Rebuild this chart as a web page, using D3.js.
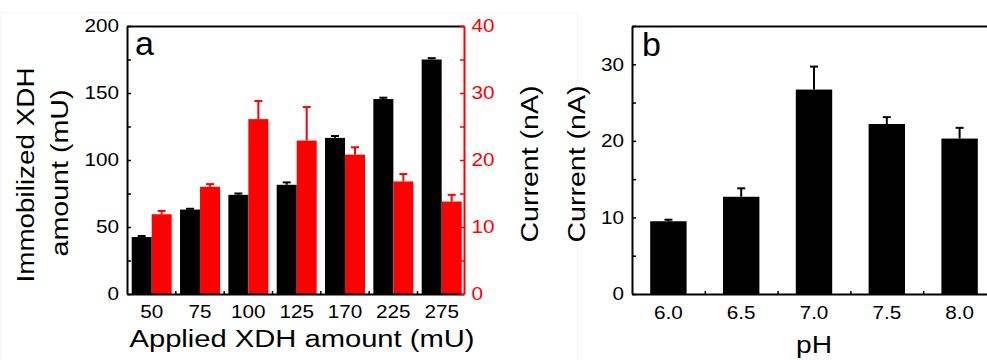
<!DOCTYPE html>
<html>
<head>
<meta charset="utf-8">
<script src="https://cdn.jsdelivr.net/npm/d3@7"></script>
<style>
  body { margin: 0; background: #fff; }
  text { font-family: 'Liberation Sans', Arial, sans-serif; }
</style>
</head>
<body>
<svg id="chart" width="987" height="360"></svg>
<script>
// panel a data
const appliedAmounts = ['50', '75', '100', '125', '170', '225', '275'];
const immobilized = [42.5, 63, 74, 81.5, 116.5, 145.5, 175];
const immobilizedErr = [0.8, 0.6, 1.0, 1.8, 1.4, 1.0, 1.0];
const currentA = [11.9, 16.0, 26.1, 22.9, 20.8, 16.8, 13.8];
const currentAErr = [0.5, 0.4, 2.7, 5.0, 1.1, 1.1, 1.0];
const leftTicksA = [0, 25, 50, 75, 100, 125, 150, 175, 200];
const rightTicksA = [0, 5, 10, 15, 20, 25, 30, 35, 40];

// panel b data
const phValues = ['6.0', '6.5', '7.0', '7.5', '8.0'];
const currentB = [9.5, 12.7, 26.7, 22.2, 20.3];
const currentBErr = [0.2, 1.1, 3.0, 0.9, 1.4];
const ticksB = [0, 5, 10, 15, 20, 25, 30, 35];

const RED = '#ff0000';
const stretch = 1.15; // the figure text is widened horizontally
const tickFont = 18;

const svg = d3.select('#chart');

// faint frame of the pasted left image
svg.append('rect')
  .attr('x', 0.5).attr('y', 12.5)
  .attr('width', 577).attr('height', 360)
  .attr('fill', 'none')
  .attr('stroke', '#f5f5f5');

function styleAxis(g, color) {
  g.select('.domain').attr('stroke', color).attr('stroke-width', 2);
  g.selectAll('.tick line').attr('stroke', color).attr('stroke-width', 1.5);
  g.selectAll('.tick text')
    .attr('fill', color)
    .style('font-size', tickFont + 'px')
    .attr('transform', `scale(${stretch},1)`);
}

function errorBars(g, data, errs, xPos, yScale, color) {
  const cap = 4;
  const eb = g.append('g').attr('stroke', color).attr('stroke-width', 2);
  eb.selectAll('line.stem')
    .data(data)
    .join('line')
    .attr('class', 'stem')
    .attr('x1', (d, i) => xPos(i))
    .attr('x2', (d, i) => xPos(i))
    .attr('y1', (d) => yScale(d))
    .attr('y2', (d, i) => yScale(d + errs[i]));
  eb.selectAll('line.cap')
    .data(data)
    .join('line')
    .attr('class', 'cap')
    .attr('x1', (d, i) => xPos(i) - cap)
    .attr('x2', (d, i) => xPos(i) + cap)
    .attr('y1', (d, i) => yScale(d + errs[i]))
    .attr('y2', (d, i) => yScale(d + errs[i]));
}

function title(x, y, txt, len, rotate) {
  svg.append('text')
    .attr('transform', `translate(${x},${y})` + (rotate ? ' rotate(-90)' : ''))
    .attr('text-anchor', 'middle')
    .attr('textLength', len)
    .attr('lengthAdjust', 'spacingAndGlyphs')
    .style('font-size', '23px')
    .attr('fill', '#000')
    .text(txt);
}

// ---------- panel a ----------
const a = { left: 127, right: 464, top: 26, bottom: 294 };

const xA = d3.scaleBand()
  .domain(appliedAmounts)
  .range([a.left, a.left + 48.33 * appliedAmounts.length]);
const subA = d3.scaleBand()
  .domain(['imm', 'cur'])
  .range([4.7, 44.7]);
const yLeftA = d3.scaleLinear().domain([0, 200]).range([a.bottom, a.top]);
const yRightA = d3.scaleLinear().domain([0, 40]).range([a.bottom, a.top]);
const boundaryA = d3.scaleLinear()
  .domain([0, appliedAmounts.length])
  .range(xA.range());

const panelA = svg.append('g');

panelA.append('g')
  .selectAll('rect')
  .data(immobilized)
  .join('rect')
  .attr('x', (d, i) => xA(appliedAmounts[i]) + subA('imm'))
  .attr('width', subA.bandwidth())
  .attr('y', (d) => yLeftA(d))
  .attr('height', (d) => yLeftA(0) - yLeftA(d))
  .attr('fill', '#000');

panelA.append('g')
  .selectAll('rect')
  .data(currentA)
  .join('rect')
  .attr('x', (d, i) => xA(appliedAmounts[i]) + subA('cur'))
  .attr('width', subA.bandwidth())
  .attr('y', (d) => yRightA(d))
  .attr('height', (d) => yRightA(0) - yRightA(d))
  .attr('fill', RED);

errorBars(panelA, immobilized, immobilizedErr,
  (i) => xA(appliedAmounts[i]) + subA('imm') + subA.bandwidth() / 2, yLeftA, '#000');
errorBars(panelA, currentA, currentAErr,
  (i) => xA(appliedAmounts[i]) + subA('cur') + subA.bandwidth() / 2, yRightA, RED);

// axes of panel a
const xAxisA = panelA.append('g')
  .attr('transform', `translate(0,${a.bottom})`)
  .call(d3.axisBottom(xA).tickSize(0).tickPadding(11));
xAxisA.select('.domain').remove();
styleAxis(xAxisA, '#000');
xAxisA.selectAll('.tick text')
  .attr('x', (d) => (subA('cur') - xA.bandwidth() / 2) / stretch);

const xBoundA = panelA.append('g')
  .attr('transform', `translate(0,${a.bottom})`)
  .call(d3.axisBottom(boundaryA).tickValues(d3.range(1, appliedAmounts.length))
    .tickSizeInner(-3).tickSizeOuter(0).tickFormat(''));
xBoundA.select('.domain').remove();
styleAxis(xBoundA, '#000');

const topA = panelA.append('g')
  .attr('transform', `translate(0,${a.top})`)
  .call(d3.axisTop(d3.scaleLinear().range([a.left, a.right])).tickValues([]).tickSizeOuter(0));
styleAxis(topA, '#000');

const bottomLineA = panelA.append('g')
  .attr('transform', `translate(0,${a.bottom})`)
  .call(d3.axisBottom(d3.scaleLinear().range([a.left, a.right])).tickValues([]).tickSizeOuter(0));
styleAxis(bottomLineA, '#000');

const yAxisLeftA = panelA.append('g')
  .attr('transform', `translate(${a.left},0)`)
  .call(d3.axisLeft(yLeftA).tickValues(leftTicksA)
    .tickSizeInner(-4).tickSizeOuter(0).tickPadding(7)
    .tickFormat((d) => (d % 50 === 0 ? d : '')));
styleAxis(yAxisLeftA, '#000');

const yAxisRightA = panelA.append('g')
  .attr('transform', `translate(${a.right},0)`)
  .call(d3.axisRight(yRightA).tickValues(rightTicksA)
    .tickSizeInner(-4).tickSizeOuter(0).tickPadding(6.5)
    .tickFormat((d) => (d % 10 === 0 ? d : '')));
styleAxis(yAxisRightA, RED);

panelA.append('text')
  .attr('x', 135).attr('y', 55)
  .style('font-size', '34px')
  .text('a');

title(34, 175, 'Immobilized XDH', 215, true);
title(68, 173, 'amount (mU)', 167, true);
title(538, 164, 'Current (nA)', 157, true);
title(302, 347, 'Applied XDH amount (mU)', 345, false);

// ---------- panel b ----------
const b = { left: 632, right: 996, top: 26, bottom: 294 };

const xB = d3.scaleBand()
  .domain(phValues)
  .range([b.left, b.right])
  .paddingInner(0.5)
  .paddingOuter(0.25);
const yB = d3.scaleLinear().domain([0, 35]).range([b.bottom, b.top]);
const boundaryB = d3.scaleLinear().domain([0, phValues.length]).range([b.left, b.right]);

const panelB = svg.append('g');

panelB.append('g')
  .selectAll('rect')
  .data(currentB)
  .join('rect')
  .attr('x', (d, i) => xB(phValues[i]))
  .attr('width', xB.bandwidth())
  .attr('y', (d) => yB(d))
  .attr('height', (d) => yB(0) - yB(d))
  .attr('fill', '#000');

errorBars(panelB, currentB, currentBErr,
  (i) => xB(phValues[i]) + xB.bandwidth() / 2, yB, '#000');

const xAxisB = panelB.append('g')
  .attr('transform', `translate(0,${b.bottom})`)
  .call(d3.axisBottom(xB).tickSize(0).tickPadding(12));
xAxisB.select('.domain').remove();
styleAxis(xAxisB, '#000');

const xBoundB = panelB.append('g')
  .attr('transform', `translate(0,${b.bottom})`)
  .call(d3.axisBottom(boundaryB).tickValues(d3.range(1, phValues.length))
    .tickSizeInner(-3).tickSizeOuter(0).tickFormat(''));
styleAxis(xBoundB, '#000');

const topB = panelB.append('g')
  .attr('transform', `translate(0,${b.top})`)
  .call(d3.axisTop(boundaryB).tickValues([]).tickSizeOuter(0));
styleAxis(topB, '#000');

const yAxisB = panelB.append('g')
  .attr('transform', `translate(${b.left},0)`)
  .call(d3.axisLeft(yB).tickValues(ticksB)
    .tickSizeInner(-4).tickSizeOuter(0).tickPadding(7)
    .tickFormat((d) => (d % 10 === 0 ? d : '')));
styleAxis(yAxisB, '#000');

panelB.append('text')
  .attr('x', 642).attr('y', 56)
  .style('font-size', '34px')
  .text('b');

title(585, 164, 'Current (nA)', 157, true);
title(814, 353, 'pH', 36, false);
</script>
</body>
</html>
